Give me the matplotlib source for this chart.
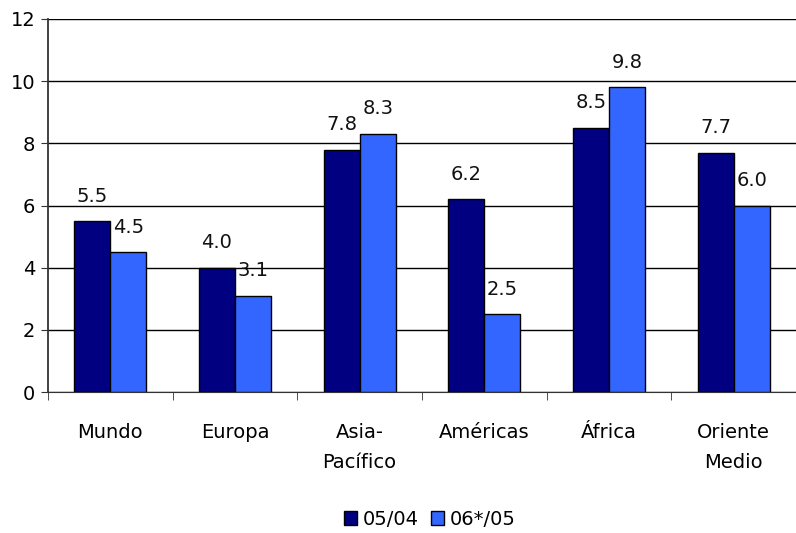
import matplotlib
matplotlib.use("Agg")
import matplotlib.pyplot as plt
import numpy as np

# growth by region, two periods
regions = ["Mundo", "Europa", "Asia-\nPacífico", "Américas", "África", "Oriente\nMedio"]
s_0504 = [5.5, 4.0, 7.8, 6.2, 8.5, 7.7]
s_0605 = [4.5, 3.1, 8.3, 2.5, 9.8, 6.0]
series_names = ["05/04", "06*/05"]

plt.rcParams['font.family'] = ['DejaVu Sans']
fig = plt.figure(figsize=(7.96, 5.33), dpi=100)
ax = fig.add_axes([48/796, 141/533, 748/796, 373/533])

x = np.arange(len(regions))
w = 0.29
b1 = ax.bar(x - w/2, s_0504, w, color='#000080', edgecolor='black', linewidth=1, label=series_names[0], zorder=3)
b2 = ax.bar(x + w/2, s_0605, w, color='#3366FF', edgecolor='black', linewidth=1, label=series_names[1], zorder=3)

for bars, vals in ((b1, s_0504), (b2, s_0605)):
    for r, v in zip(bars, vals):
        ax.text(r.get_x() + r.get_width()/2, v + 0.5, f"{v:.1f}", ha='center', va='bottom',
                fontsize=14, color='#111111')

ax.set_xlim(-0.5, len(regions) - 0.5)
ax.set_ylim(0, 12)
ax.set_yticks(range(0, 13, 2))
ax.yaxis.grid(True, color='black', linewidth=1, zorder=0)
ax.set_axisbelow(True)

ax.set_xticks(x)
ax.set_xticklabels(regions, fontsize=14, linespacing=1.75, va='top')
ax.tick_params(axis='x', length=0, pad=22)
ax.set_xticks(np.arange(len(regions) + 1) - 0.5, minor=True)
ax.tick_params(axis='x', which='minor', length=6, color='#333333', direction='out')
ax.tick_params(axis='y', labelsize=14, length=5, color='#333333', pad=4)

for s in ('top', 'right'):
    ax.spines[s].set_visible(False)
ax.spines['left'].set_color('#333333')
ax.spines['bottom'].set_color('#333333')
ax.spines['left'].set_linewidth(1.3)

fig.legend(loc='lower center', bbox_to_anchor=(0.54, -0.025), ncol=2, frameon=False,
           fontsize=14, handlelength=0.7, handleheight=0.7, handletextpad=0.3, columnspacing=0.6)

fig.savefig("out.png", dpi=100)
